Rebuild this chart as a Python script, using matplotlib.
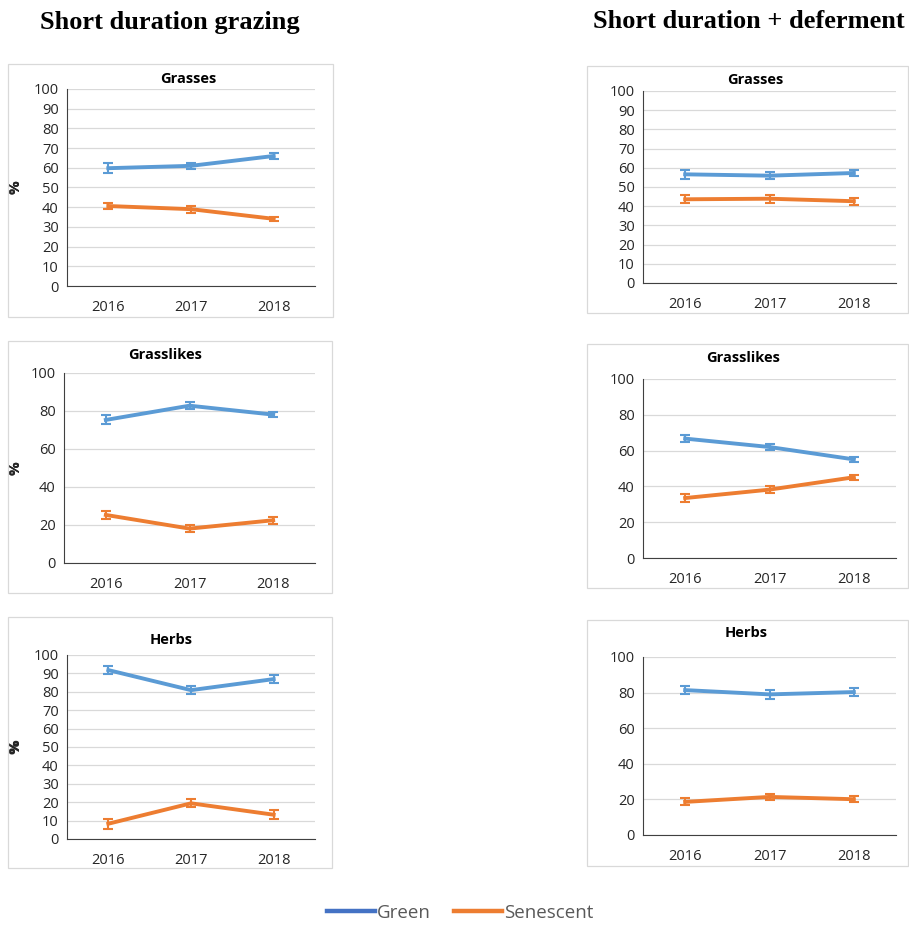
import matplotlib.pyplot as plt
from matplotlib.patches import Rectangle
from matplotlib.lines import Line2D

W, H = 909, 925

years = ["2016", "2017", "2018"]
headers = ["Short duration grazing", "Short duration + deferment"]
groups = ["Grasses", "Grasslikes", "Herbs"]

# left column: short duration grazing
sdg_green = [[59.8, 61.0, 66.0], [75.3, 82.8, 78.1], [91.8, 80.9, 86.9]]
sdg_green_err = [[2.4, 1.5, 1.4], [2.4, 1.9, 1.4], [2.3, 2.2, 2.2]]
sdg_sen = [[40.6, 39.0, 34.1], [25.3, 18.1, 22.5], [8.3, 19.4, 13.2]]
sdg_sen_err = [[1.6, 1.7, 1.1], [1.9, 2.0, 1.8], [2.6, 2.1, 2.4]]

# right column: short duration + deferment
sdd_green = [[56.6, 55.9, 57.3], [66.7, 62.0, 55.1], [81.4, 79.0, 80.3]]
sdd_green_err = [[2.2, 1.8, 1.8], [2.0, 1.7, 1.2], [2.4, 2.5, 2.3]]
sdd_sen = [[43.6, 43.9, 42.6], [33.5, 38.2, 45.1], [18.6, 21.4, 20.1]]
sdd_sen_err = [[2.1, 2.0, 1.8], [2.0, 2.0, 1.4], [2.0, 1.9, 1.6]]

tick_steps = [[10, 20, 10], [10, 20, 20]]

BLUE = "#5B9BD5"
ORANGE = "#ED7D31"
FONT = "Open Sans"

# pixel layout: (box l, t, r, b), (axes l, t, r, b), title (x, y)
layout = [
    [((8, 64, 333, 317), (67, 89, 315, 286), (188, 79)),
     ((8, 341, 332, 593), (64, 373, 315, 563), (165, 355)),
     ((8, 617, 332, 868), (67, 655, 315, 839), (171, 640))],
    [((587, 66, 908, 313), (643, 91, 896, 283), (755, 80)),
     ((587, 344, 908, 588), (643, 379, 896, 558), (743, 358)),
     ((587, 620, 908, 866), (643, 657, 896, 835), (746, 633))],
]


def px_rect(l, t, r, b):
    return [l / W, 1 - b / H, (r - l) / W, (b - t) / H]


def draw_panel(fig, box, axbox, tpos, title, green, green_err, sen, sen_err, step):
    fig.patches.append(Rectangle((box[0] / W, 1 - box[3] / H),
                                 (box[2] - box[0]) / W, (box[3] - box[1]) / H,
                                 transform=fig.transFigure, fill=False,
                                 edgecolor="#D9D9D9", linewidth=0.9))
    ax = fig.add_axes(px_rect(*axbox))
    x = range(len(years))
    for vals, errs, col in [(green, green_err, BLUE), (sen, sen_err, ORANGE)]:
        ax.errorbar(x, vals, yerr=errs, color=col, linewidth=2.8,
                    elinewidth=1.5, capsize=3.5, capthick=1.5, zorder=3)
    ax.set_xlim(-0.5, 2.5)
    ax.set_ylim(0, 100)
    ax.set_yticks(range(0, 101, step))
    ax.set_xticks(list(x))
    ax.set_xticklabels(years)
    ax.grid(axis="y", color="#D9D9D9", linewidth=0.9)
    ax.set_axisbelow(True)
    for s in ["top", "right"]:
        ax.spines[s].set_visible(False)
    ax.spines["left"].set_color("#404040")
    ax.spines["bottom"].set_color("#404040")
    ax.tick_params(length=0, labelsize=10.5, colors="#262626", pad=6)
    ax.tick_params(axis="x", pad=10)
    for lab in ax.get_xticklabels() + ax.get_yticklabels():
        lab.set_family(FONT)
    ax.set_ylabel("%", fontsize=11, fontweight="bold", family=FONT,
                  color="#262626")
    ax.yaxis.set_label_coords((22 - axbox[0]) / (axbox[2] - axbox[0]), 0.5)
    fig.text(tpos[0] / W, 1 - tpos[1] / H, title, ha="center", va="center",
             fontsize=10.5, fontweight="bold", family=FONT, color="#000000")


fig = plt.figure(figsize=(W / 100, H / 100), dpi=100)

fig.text(170 / W, 1 - 22 / H, headers[0], ha="center", va="center",
         fontsize=19, fontweight="bold", family="Liberation Serif")
fig.text(749 / W, 1 - 22 / H, headers[1], ha="center", va="center",
         fontsize=19, fontweight="bold", family="Liberation Serif")

data = [(sdg_green, sdg_green_err, sdg_sen, sdg_sen_err),
        (sdd_green, sdd_green_err, sdd_sen, sdd_sen_err)]

for c in range(2):
    g, ge, s, se = data[c]
    for r in range(3):
        box, axbox, tpos = layout[c][r]
        draw_panel(fig, box, axbox, tpos, groups[r], g[r], ge[r], s[r], se[r],
                   tick_steps[c][r])

handles = [Line2D([], [], color="#4472C4", linewidth=3.2),
           Line2D([], [], color=ORANGE, linewidth=3.2)]
leg = fig.legend(handles, ["Green", "Senescent"], loc="center",
                 bbox_to_anchor=(460 / W, 1 - 913 / H), ncol=2, frameon=False,
                 handlelength=2.6, handletextpad=0.1, columnspacing=1.2,
                 prop={"family": FONT, "size": 13.5})
for t in leg.get_texts():
    t.set_color("#595959")

fig.savefig("out.png", dpi=100)
